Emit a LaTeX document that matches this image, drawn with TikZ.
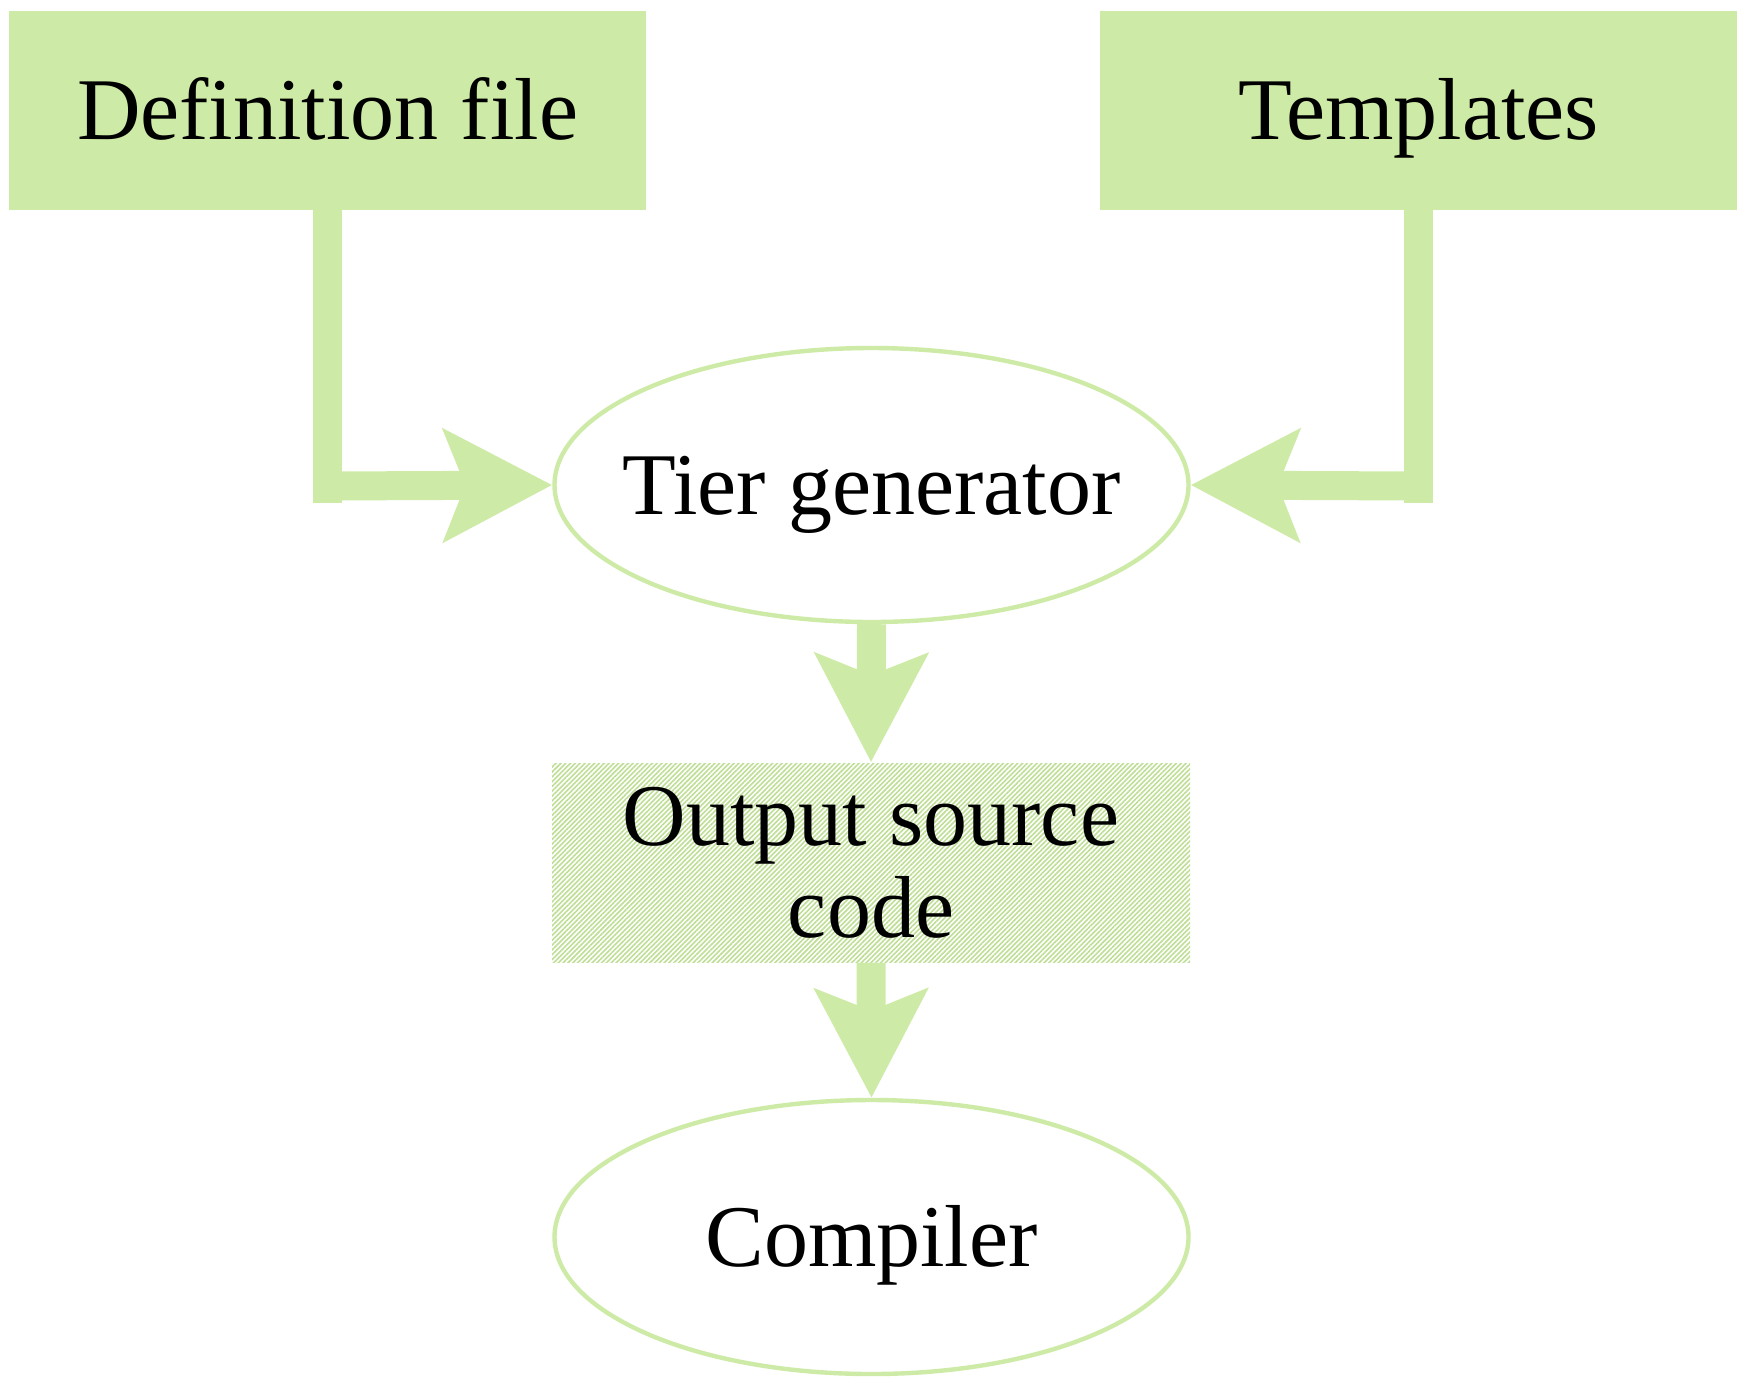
\documentclass[tikz,border=0pt]{standalone}
\usepackage{fontspec}
\setmainfont{Liberation Serif}
\usetikzlibrary{arrows.meta,shapes.geometric,patterns.meta}
\definecolor{lgreen}{RGB}{205,235,166}
\definecolor{hgreen}{RGB}{190,222,150}
\begin{document}
\begin{tikzpicture}[x=0.5pt,y=-0.5pt,
  txt/.style={font=\fontsize{44}{46}\selectfont, text height=29pt, text depth=0pt, inner sep=0pt, align=center},
  greenbox/.style={txt, rectangle, fill=lgreen, minimum width=318.5pt, minimum height=99.5pt},
  hatchbox/.style={rectangle, inner sep=0pt, pattern={Lines[angle=45,distance=1.7pt,line width=0.8pt]}, pattern color=hgreen, minimum width=319pt, minimum height=99.5pt},
  ellnode/.style={ellipse, inner sep=0pt, draw=lgreen, line width=2.2pt, minimum width=317pt, minimum height=137pt},
  conn/.style={draw=lgreen, line width=14.5pt, line cap=butt},
  arr/.style={conn, -{Stealth[length=54pt, width=55.5pt, inset=10.5pt]}}
]
\useasboundingbox (0,0) rectangle (1743,1377);
\node[greenbox] (def) at (327.5,110.5) {Definition file};
\node[greenbox] (tpl) at (1418.5,110.5) {Templates};
\node[ellnode, label={[txt]center:Tier generator}] (tier) at (871.5,485) {};
\node[hatchbox, label={[txt, text height=75pt]center:Output source\\code}] (out) at (871,862.5) {};
\node[ellnode, label={[txt]center:Compiler}] (comp) at (871.5,1237) {};
\coordinate (lbend) at (327.5,503);
\coordinate (ljoin) at (327.5,486);
\coordinate (rbend) at (1418.5,503);
\coordinate (rjoin) at (1418.5,486);
\draw[conn] (def.south) -- (lbend);
\draw[arr] (ljoin) -- (tier.west);
\draw[conn] (tpl.south) -- (rbend);
\draw[arr] (rjoin) -- (tier.east);
\draw[arr] (tier.south) -- (out.north);
\draw[arr] (out.south) -- (comp.north);
\end{tikzpicture}
\end{document}
